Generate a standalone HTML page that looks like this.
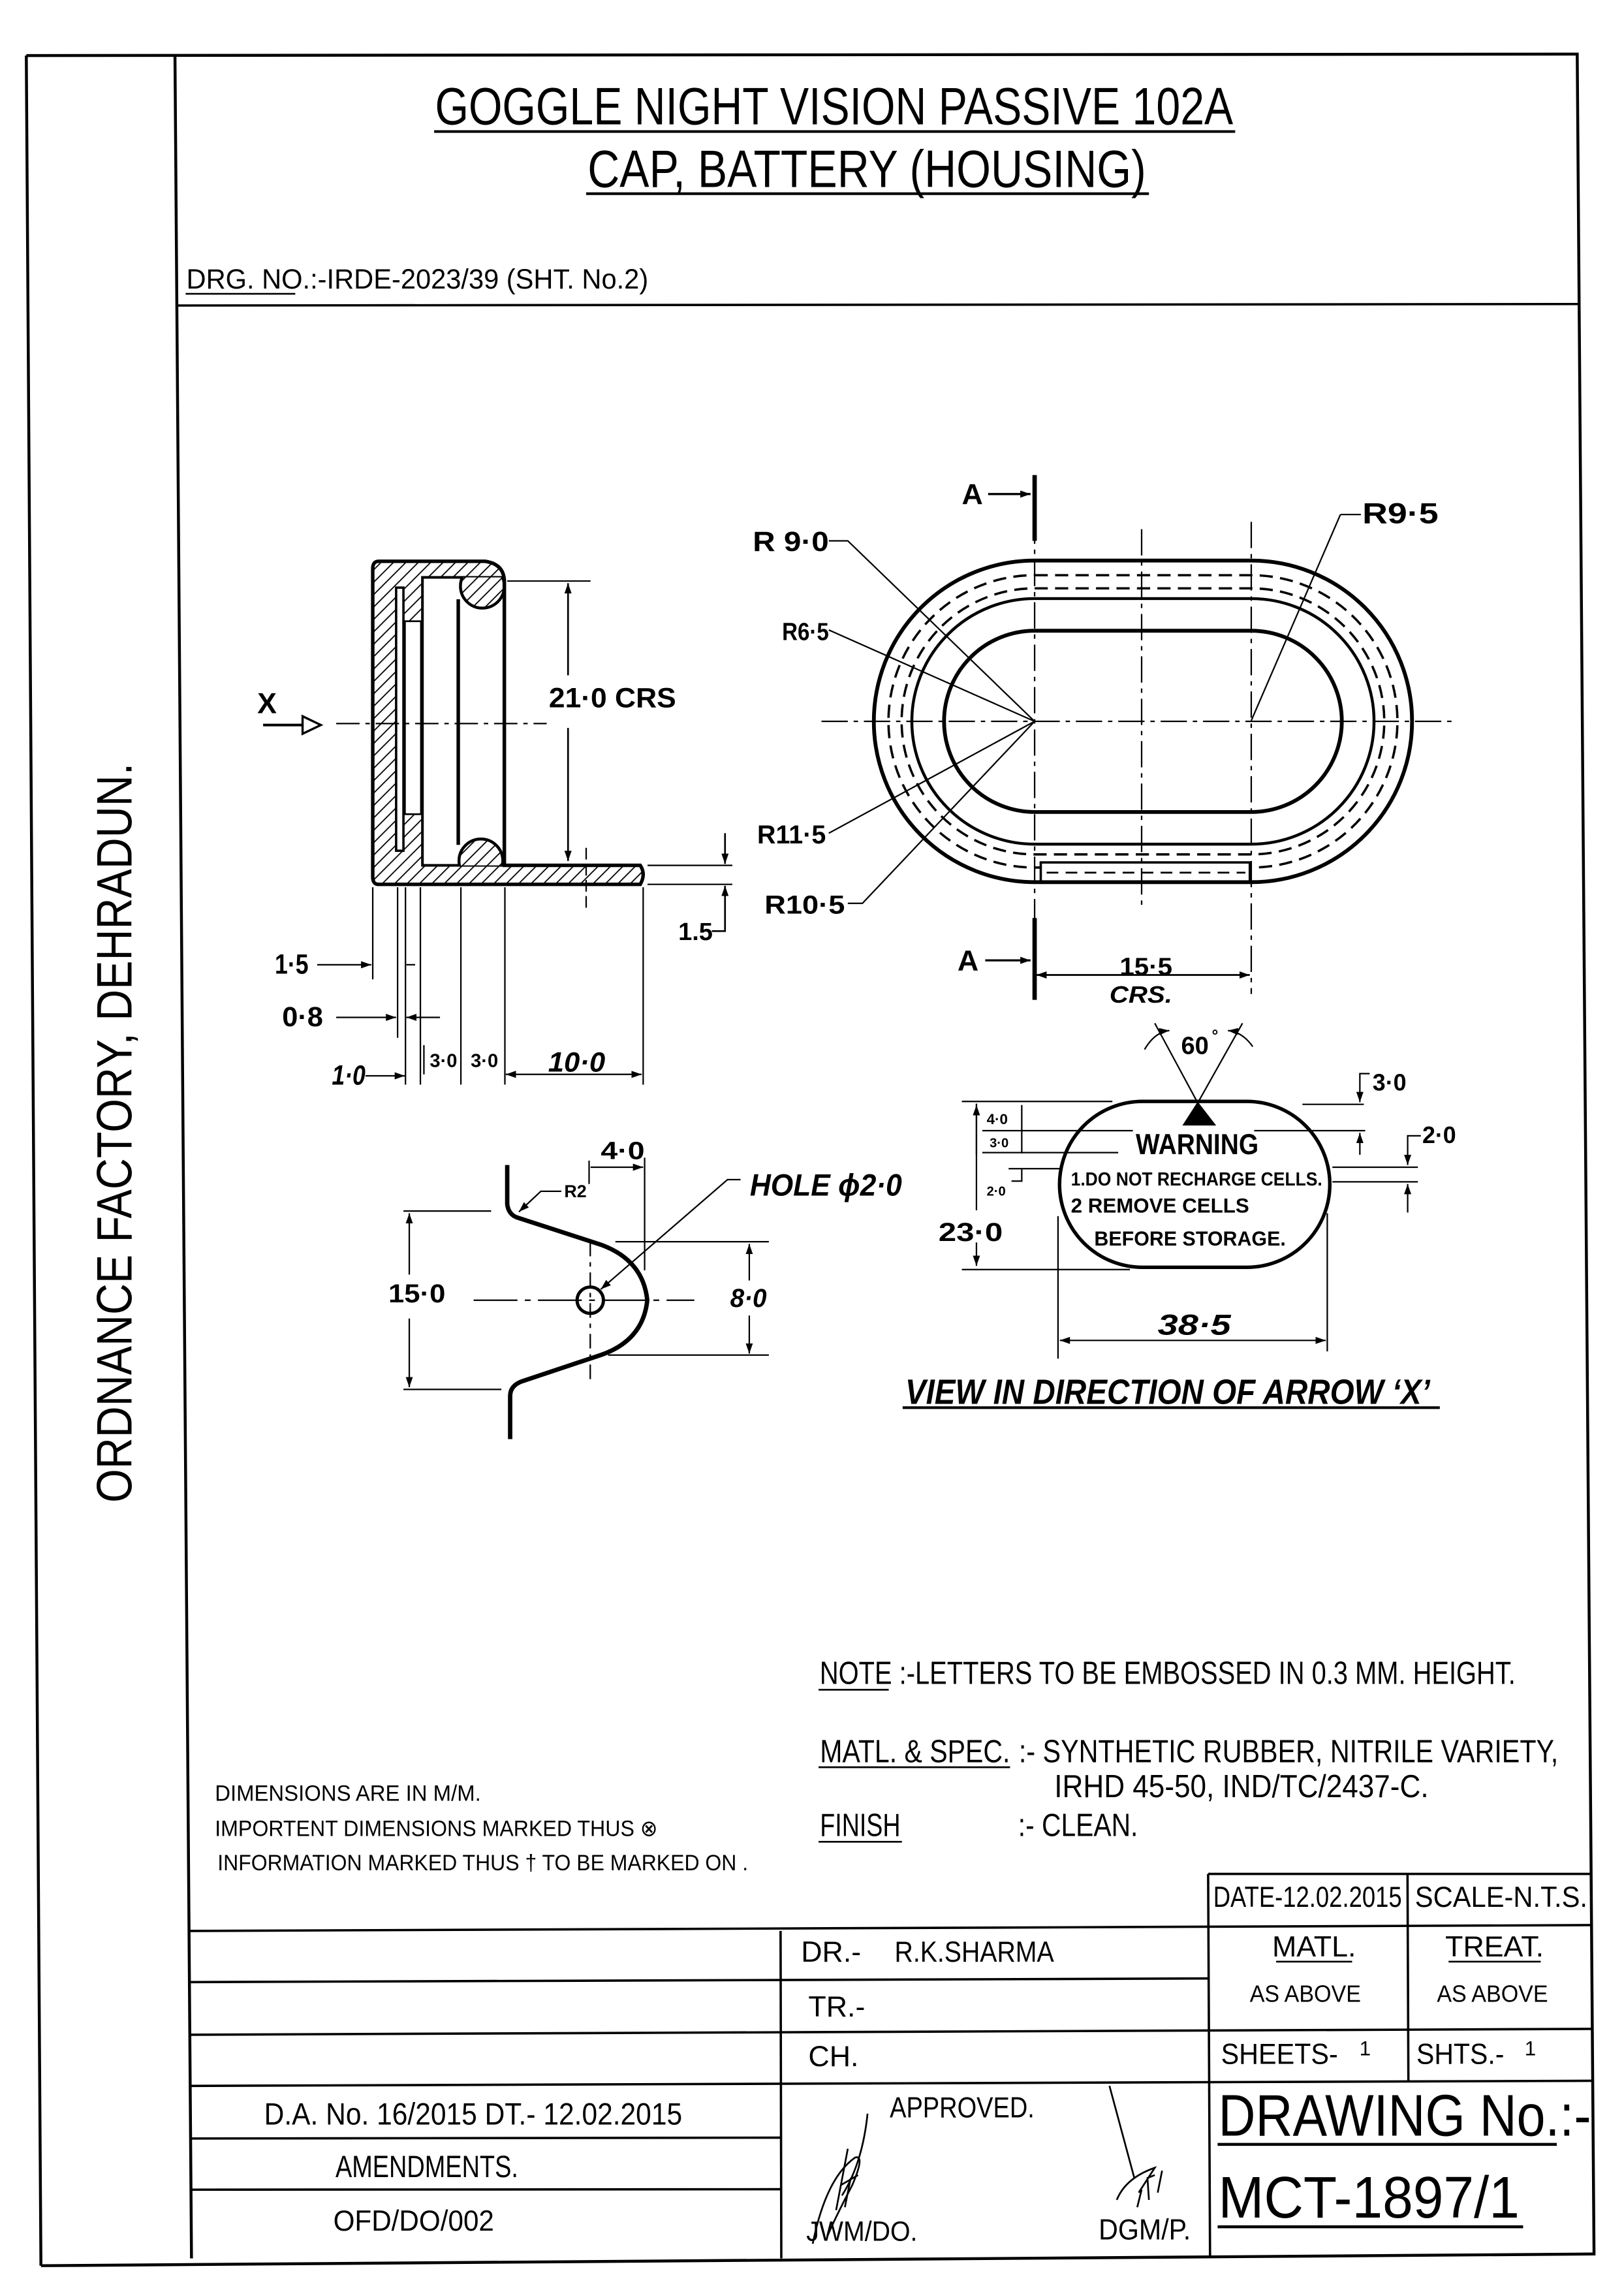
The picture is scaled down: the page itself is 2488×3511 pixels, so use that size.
<!DOCTYPE html>
<html><head><meta charset="utf-8"><style>
html,body{margin:0;padding:0;background:#fff;}
svg{display:block;}
text{font-family:"Liberation Sans",sans-serif;fill:#000;}
.t{font-weight:normal;}
.b{font-weight:bold;}
.i{font-weight:bold;font-style:italic;}
</style></head><body>
<svg xmlns="http://www.w3.org/2000/svg" width="2488" height="3511" viewBox="0 0 1111 1568" preserveAspectRatio="none">
<defs>
<pattern id="h" patternUnits="userSpaceOnUse" width="6" height="6" patternTransform="rotate(45)">
<rect width="6" height="6" fill="#fff"/><line x1="0" y1="0" x2="0" y2="6" stroke="#000" stroke-width="1.6"/>
</pattern>
<marker id="a" viewBox="0 0 10 10" refX="10" refY="5" markerWidth="7" markerHeight="7" orient="auto-start-reverse" markerUnits="userSpaceOnUse"><path d="M0,1.5 L10,5 L0,8.5 Z" fill="#000"/></marker>
<clipPath id="cav"><rect x="289" y="395" width="56" height="197"/></clipPath>
</defs>
<rect width="1111" height="1568" fill="#fff"/>
<g stroke="#000" fill="none">
<line x1="18" y1="38" x2="28" y2="1550" stroke-width="2"/>
<line x1="18" y1="38" x2="1080" y2="37" stroke-width="2"/>
<line x1="119.7" y1="38" x2="131" y2="1545" stroke-width="2"/>
<line x1="1079" y1="37" x2="1090.5" y2="1543" stroke-width="2"/>
<line x1="121" y1="209" x2="1080" y2="208" stroke-width="1.6"/>
<line x1="28" y1="1550" x2="1090" y2="1542" stroke-width="2"/>
<g stroke-width="1.6">
<line x1="826.5" y1="1282" x2="1088.6" y2="1282"/>
<line x1="129.5" y1="1321" x2="1088.6" y2="1317"/>
<line x1="129.7" y1="1356" x2="826.5" y2="1353.5"/>
<line x1="130" y1="1392" x2="1088.8" y2="1388"/>
<line x1="130.2" y1="1427" x2="1089" y2="1423.5"/>
<line x1="130.4" y1="1463" x2="534.5" y2="1462.4"/>
<line x1="130.7" y1="1498" x2="534.5" y2="1497.7"/>
<line x1="534" y1="1321" x2="534.5" y2="1545"/>
<line x1="826.5" y1="1282" x2="827.8" y2="1543"/>
<line x1="962.9" y1="1282" x2="963.5" y2="1424"/>
<line x1="833" y1="1467" x2="1065" y2="1467" stroke-width="2"/>
<line x1="833" y1="1523.4" x2="1042" y2="1523.4" stroke-width="2"/>
</g>
<g stroke-width="1.2">
<path d="M593.5,1446 Q590,1480 576,1502"/>
<path d="M556,1535 Q565,1490 585,1476 Q592,1474 583,1495 Q570,1520 566,1530"/>
<path d="M575,1495 L587,1488 M572,1512 L580,1470 M578,1510 L582,1490"/>
<path d="M759,1427 Q768,1460 776,1490"/>
<path d="M764,1505 Q770,1490 790,1483 L779,1500 M778,1510 L781,1498 M786,1505 L785,1490 L790,1488 M792,1500 L795,1485"/>
</g>
<path d="M259,384 L332,384 Q345,386 345,398 L345,592 L438,592 Q442,598 438,605 L259,605 Q255,605 255,600 L255,389 Q255,384 259,384 Z" fill="url(#h)" stroke-width="2.4"/>
<rect x="289" y="395" width="56" height="197" fill="#fff" stroke-width="1.8"/>
<g clip-path="url(#cav)">
<circle cx="330" cy="401" r="15" fill="url(#h)" stroke-width="2"/>
<circle cx="329" cy="589" r="15" fill="url(#h)" stroke-width="2"/>
</g>
<line x1="345" y1="396" x2="345" y2="593" stroke-width="2.4"/>
<line x1="313.5" y1="410" x2="313.5" y2="578" stroke-width="2.4"/>
<rect x="271" y="402" width="5" height="180" fill="#fff" stroke-width="1.6"/>
<rect x="277" y="425" width="11" height="132" fill="#fff" stroke-width="1.2"/>
<line x1="230" y1="495" x2="374" y2="495" stroke-width="1" stroke-dasharray="16 4 3 4"/>
<line x1="180" y1="496" x2="207" y2="496" stroke-width="1.8"/>
<path d="M207,490 L219.5,496 L207,502 Z" stroke-width="1.5" fill="#fff"/>
<line x1="347" y1="397.5" x2="404" y2="397.5" stroke-width="1"/>
<line x1="388.6" y1="399" x2="388.6" y2="462" stroke-width="1.2" marker-start="url(#a)"/>
<line x1="388.6" y1="498" x2="388.6" y2="589" stroke-width="1.2" marker-end="url(#a)"/>
<line x1="443" y1="592" x2="501" y2="592" stroke-width="1"/>
<line x1="443" y1="605" x2="501" y2="605" stroke-width="1"/>
<line x1="496" y1="570" x2="496" y2="591" stroke-width="1.2" marker-end="url(#a)"/>
<path d="M487,637 L496,637 L496,606" stroke-width="1.2" marker-end="url(#a)"/>
<line x1="401" y1="580" x2="401" y2="622" stroke-width="1" stroke-dasharray="8 3"/>
<g stroke-width="1">
<line x1="255" y1="607" x2="255" y2="670"/>
<line x1="272" y1="607" x2="272" y2="710"/>
<line x1="277.4" y1="607" x2="277.4" y2="742"/>
<line x1="287.6" y1="607" x2="287.6" y2="742"/>
<line x1="315.3" y1="607" x2="315.3" y2="742"/>
<line x1="345.4" y1="607" x2="345.4" y2="742"/>
<line x1="440" y1="607" x2="440" y2="742"/>
<line x1="217" y1="660" x2="254" y2="660" marker-end="url(#a)"/>
<line x1="278" y1="660" x2="284" y2="660"/>
<line x1="230" y1="696" x2="271" y2="696" marker-end="url(#a)"/>
<line x1="301" y1="696" x2="278" y2="696" marker-end="url(#a)"/>
<line x1="250" y1="736" x2="277" y2="736" marker-end="url(#a)"/>
<line x1="346" y1="735" x2="439" y2="735" marker-start="url(#a)" marker-end="url(#a)"/>
</g>
<path d="M707.8,383.5 L856,383.5 A110,110 0 0 1 856,603.5 L707.8,603.5 A110,110 0 0 1 707.8,383.5 Z" stroke-width="2.6"/>
<path d="M707.8,393.5 L856,393.5 A100,100 0 0 1 856,593.5 L707.8,593.5 A100,100 0 0 1 707.8,393.5 Z" stroke-width="1.6" stroke-dasharray="9 5"/>
<path d="M707.8,402.5 L856,402.5 A91,91 0 0 1 856,584.5 L707.8,584.5 A91,91 0 0 1 707.8,402.5 Z" stroke-width="1.6" stroke-dasharray="9 5"/>
<path d="M707.8,409.5 L856,409.5 A84,84 0 0 1 856,577.5 L707.8,577.5 A84,84 0 0 1 707.8,409.5 Z" stroke-width="2"/>
<path d="M707.8,431.5 L856,431.5 A62,62 0 0 1 856,555.5 L707.8,555.5 A62,62 0 0 1 707.8,431.5 Z" stroke-width="2.6"/>
<rect x="712" y="590" width="143" height="13" fill="#fff" stroke-width="1.6"/>
<line x1="716" y1="597" x2="852" y2="597" stroke-width="1.2" stroke-dasharray="8 5"/>
<line x1="562" y1="493.5" x2="997" y2="493.5" stroke-width="1" stroke-dasharray="18 4 3 4"/>
<line x1="707.8" y1="325" x2="707.8" y2="682" stroke-width="1" stroke-dasharray="18 4 3 4"/>
<line x1="707.8" y1="325" x2="707.8" y2="370" stroke-width="3"/>
<line x1="707.8" y1="628" x2="707.8" y2="684" stroke-width="3"/>
<line x1="781" y1="362" x2="781" y2="620" stroke-width="1" stroke-dasharray="18 4 3 4"/>
<line x1="856" y1="357" x2="856" y2="680" stroke-width="1" stroke-dasharray="18 4 3 4"/>
<line x1="676" y1="338" x2="705" y2="338" stroke-width="1.5" marker-end="url(#a)"/>
<line x1="674" y1="657" x2="705" y2="657" stroke-width="1.5" marker-end="url(#a)"/>
<line x1="709" y1="667" x2="855" y2="667" stroke-width="1.2" marker-start="url(#a)" marker-end="url(#a)"/>
<g stroke-width="1">
<path d="M917,352 L931,352"/>
<line x1="917" y1="352" x2="856" y2="493"/>
<path d="M567,370 L580,370 L707.8,493.5"/>
<path d="M567,431 L707.8,493.5"/>
<path d="M567,570 L707.8,493.5"/>
<path d="M580,618 L590,618 L707.8,493.5"/>
</g>
<path d="M347,797 L347,824 Q348,831 354,833 L411,851.5 Q440,862 442.8,889.5 Q440,917 411,927 L357,945 Q349,948 349,955 L349,984.5" stroke-width="3"/>
<circle cx="403.8" cy="889.5" r="9" stroke-width="2.2"/>
<line x1="403.8" y1="849.5" x2="403.8" y2="947" stroke-width="1" stroke-dasharray="10 4 3 4"/>
<line x1="324" y1="889.5" x2="475" y2="889.5" stroke-width="1" stroke-dasharray="30 5 4 5"/>
<g stroke-width="1">
<line x1="276" y1="828.5" x2="336" y2="828.5"/>
<line x1="276" y1="950.5" x2="343" y2="950.5"/>
<line x1="280" y1="830" x2="280" y2="872" marker-start="url(#a)"/>
<line x1="280" y1="902" x2="280" y2="949" marker-end="url(#a)"/>
<line x1="421" y1="849.5" x2="526" y2="849.5"/>
<line x1="416" y1="927" x2="526" y2="927"/>
<line x1="512.6" y1="851" x2="512.6" y2="876" marker-start="url(#a)"/>
<line x1="512.6" y1="900" x2="512.6" y2="926" marker-end="url(#a)"/>
<line x1="403" y1="794" x2="403" y2="810"/>
<line x1="441" y1="792" x2="441" y2="869"/>
<line x1="404" y1="798.5" x2="440" y2="798.5" marker-end="url(#a)"/>
<path d="M384,815 L370,815 L355,829" marker-end="url(#a)"/>
<path d="M506.6,807 L497.7,807 L411,882" marker-end="url(#a)"/>
</g>
<path d="M781.6,753.5 L853,753.5 A56.75,56.75 0 0 1 853,867 L781.6,867 A56.75,56.75 0 0 1 781.6,753.5 Z" stroke-width="2.4"/>
<path d="M809.8,769.5 L819.4,754.5 L831,769.5 Z" fill="#000"/>
<g stroke-width="1">
<line x1="819.4" y1="754.5" x2="790" y2="700"/>
<line x1="819.4" y1="754.5" x2="850" y2="700"/>
<path d="M783,718 Q790,706 800,705" marker-end="url(#a)"/>
<path d="M857,716 Q850,706 840,705" marker-end="url(#a)"/>
<line x1="658" y1="753.5" x2="761" y2="753.5"/>
<line x1="891" y1="755.5" x2="933" y2="755.5"/>
<line x1="858" y1="773.5" x2="934" y2="773.5"/>
<path d="M937,734.5 L930.3,734.5 L930.3,754" marker-end="url(#a)"/>
<line x1="930.3" y1="790" x2="930.3" y2="775" marker-end="url(#a)"/>
<line x1="911.5" y1="798.5" x2="970" y2="798.5"/>
<line x1="911.5" y1="808.5" x2="970" y2="808.5"/>
<path d="M972,777 L963,777 L963,797" marker-end="url(#a)"/>
<line x1="963" y1="829.5" x2="963" y2="810" marker-end="url(#a)"/>
<line x1="668" y1="755" x2="668" y2="828"/>
<line x1="668" y1="850" x2="668" y2="866" marker-end="url(#a)"/>
<line x1="668" y1="790" x2="668" y2="756" marker-end="url(#a)"/>
<line x1="658" y1="868.5" x2="773" y2="868.5"/>
<line x1="672" y1="773.5" x2="775" y2="773.5"/>
<line x1="672" y1="788.5" x2="765" y2="788.5"/>
<line x1="690" y1="799.5" x2="725" y2="799.5"/>
<line x1="699" y1="756" x2="699" y2="789"/>
<path d="M692,808 L699,808 L699,800"/>
<line x1="723.8" y1="832" x2="723.8" y2="929.5"/>
<line x1="908" y1="830" x2="908" y2="924.5"/>
<line x1="725" y1="917" x2="907" y2="917" marker-start="url(#a)" marker-end="url(#a)"/>
<line x1="617.5" y1="963" x2="985" y2="963" stroke-width="1.8"/>
</g>
</g>

<text x="297.6" y="85" font-size="36" textLength="546" lengthAdjust="spacingAndGlyphs">GOGGLE NIGHT VISION PASSIVE 102A</text>
<line x1="297" y1="90" x2="845" y2="90" stroke="#000" stroke-width="1.8"/>
<text x="402" y="128" font-size="36" textLength="382" lengthAdjust="spacingAndGlyphs">CAP, BATTERY (HOUSING)</text>
<line x1="401" y1="132.5" x2="786" y2="132.5" stroke="#000" stroke-width="1.8"/>
<text x="127.5" y="197.5" font-size="19" textLength="316" lengthAdjust="spacingAndGlyphs">DRG. NO.:-IRDE-2023/39 (SHT. No.2)</text>
<line x1="127" y1="201" x2="202" y2="201" stroke="#000" stroke-width="1.2"/>
<text x="78" y="1028" font-size="34" transform="rotate(-90 78 1028)" textLength="506" lengthAdjust="spacingAndGlyphs" dy="12">ORDNANCE FACTORY, DEHRADUN.</text>

<text class="b" x="176" y="488" font-size="20">X</text>
<text class="b" x="375.5" y="484" font-size="19" textLength="87" lengthAdjust="spacingAndGlyphs">21·0 CRS</text>
<text class="b" x="464" y="643" font-size="17">1.5</text>
<text class="b" x="188" y="666" font-size="19" textLength="23" lengthAdjust="spacingAndGlyphs">1·5</text>
<text class="b" x="193" y="702" font-size="19" textLength="28" lengthAdjust="spacingAndGlyphs">0·8</text>
<text class="i" x="227" y="742" font-size="19" textLength="23" lengthAdjust="spacingAndGlyphs">1·0</text>
<text class="b" x="294" y="730" font-size="13">3·0</text>
<text class="b" x="322" y="730" font-size="13">3·0</text>
<text class="i" x="375" y="733" font-size="19" textLength="39" lengthAdjust="spacingAndGlyphs">10·0</text>
<line x1="290" y1="735" x2="290" y2="715" stroke="#000"/>

<text class="b" x="515" y="377" font-size="19" textLength="52" lengthAdjust="spacingAndGlyphs">R 9·0</text>
<text class="b" x="535" y="438" font-size="17" textLength="32" lengthAdjust="spacingAndGlyphs">R6·5</text>
<text class="b" x="518" y="577" font-size="18" textLength="47" lengthAdjust="spacingAndGlyphs">R11·5</text>
<text class="b" x="523" y="625" font-size="18" textLength="55" lengthAdjust="spacingAndGlyphs">R10·5</text>
<text class="b" x="932" y="358" font-size="20" textLength="52" lengthAdjust="spacingAndGlyphs">R9·5</text>
<text class="b" x="658" y="345" font-size="20">A</text>
<text class="b" x="655" y="664" font-size="20">A</text>
<text class="b" x="766" y="667" font-size="17" textLength="36" lengthAdjust="spacingAndGlyphs">15·5</text>
<text class="i" x="759" y="686" font-size="16" textLength="43" lengthAdjust="spacingAndGlyphs">CRS.</text>

<text class="b" x="808" y="721" font-size="17">60</text>
<text class="b" x="829" y="712" font-size="11">°</text>
<text class="b" x="939" y="746" font-size="16">3·0</text>
<text class="b" x="973" y="782" font-size="16">2·0</text>
<text class="b" x="675" y="769" font-size="10">4·0</text>
<text class="b" x="677" y="785" font-size="9">3·0</text>
<text class="b" x="675" y="818" font-size="9">2·0</text>
<text class="b" x="642" y="849" font-size="18" textLength="44" lengthAdjust="spacingAndGlyphs">23·0</text>
<text class="b" x="777" y="789.5" font-size="20" textLength="84" lengthAdjust="spacingAndGlyphs">WARNING</text>
<text class="b" x="732.6" y="811" font-size="13" textLength="172" lengthAdjust="spacingAndGlyphs">1.DO NOT RECHARGE CELLS.</text>
<text class="b" x="732.6" y="829.5" font-size="14" textLength="122" lengthAdjust="spacingAndGlyphs">2 REMOVE  CELLS</text>
<text class="b" x="748.6" y="852" font-size="14" textLength="131" lengthAdjust="spacingAndGlyphs">BEFORE STORAGE.</text>
<text class="i" x="792" y="913" font-size="20" textLength="50" lengthAdjust="spacingAndGlyphs">38·5</text>
<text class="i" x="619.3" y="960.5" font-size="24" textLength="359" lengthAdjust="spacingAndGlyphs">VIEW IN DIRECTION OF ARROW ‘X’</text>

<text class="b" x="411" y="793" font-size="17" textLength="30" lengthAdjust="spacingAndGlyphs">4·0</text>
<text class="b" x="386" y="819" font-size="12">R2</text>
<text class="i" x="513" y="818" font-size="21" textLength="104" lengthAdjust="spacingAndGlyphs">HOLE ϕ2·0</text>
<text class="b" x="265.7" y="891" font-size="18" textLength="39" lengthAdjust="spacingAndGlyphs">15·0</text>
<text class="i" x="499.5" y="894" font-size="18" textLength="25" lengthAdjust="spacingAndGlyphs">8·0</text>

<text x="147" y="1232" font-size="15.5" textLength="182" lengthAdjust="spacingAndGlyphs">DIMENSIONS ARE IN M/M.</text>
<text x="147" y="1256" font-size="15.5" textLength="303" lengthAdjust="spacingAndGlyphs">IMPORTENT DIMENSIONS MARKED THUS ⊗</text>
<text x="148.8" y="1279.5" font-size="15.5" textLength="363" lengthAdjust="spacingAndGlyphs">INFORMATION MARKED THUS † TO BE MARKED ON .</text>

<text x="560.8" y="1152" font-size="22" textLength="476" lengthAdjust="spacingAndGlyphs">NOTE :-LETTERS TO BE EMBOSSED IN 0.3 MM. HEIGHT.</text>
<line x1="560" y1="1156" x2="608" y2="1156" stroke="#000" stroke-width="1.2"/>
<text x="561" y="1205.5" font-size="22" textLength="130" lengthAdjust="spacingAndGlyphs">MATL. &amp; SPEC.</text>
<line x1="560" y1="1209" x2="691" y2="1209" stroke="#000" stroke-width="1.2"/>
<text x="697" y="1205.5" font-size="22" textLength="369" lengthAdjust="spacingAndGlyphs">:- SYNTHETIC RUBBER, NITRILE VARIETY,</text>
<text x="721.3" y="1229.5" font-size="22" textLength="256" lengthAdjust="spacingAndGlyphs">IRHD 45-50, IND/TC/2437-C.</text>
<text x="561" y="1256" font-size="22" textLength="55" lengthAdjust="spacingAndGlyphs">FINISH</text>
<line x1="560" y1="1260" x2="617" y2="1260" stroke="#000" stroke-width="1.2"/>
<text x="696.5" y="1256" font-size="22" textLength="82" lengthAdjust="spacingAndGlyphs">:- CLEAN.</text>

<text x="830" y="1304.5" font-size="20" textLength="129" lengthAdjust="spacingAndGlyphs">DATE-12.02.2015</text>
<text x="968" y="1304.5" font-size="20" textLength="118" lengthAdjust="spacingAndGlyphs">SCALE-N.T.S.</text>
<text x="548" y="1342" font-size="20">DR.-</text>
<text x="612" y="1342" font-size="20" textLength="109" lengthAdjust="spacingAndGlyphs">R.K.SHARMA</text>
<text x="553" y="1379.5" font-size="20">TR.-</text>
<text x="553" y="1413.5" font-size="20">CH.</text>
<text x="899" y="1338.5" font-size="20" text-anchor="middle">MATL.</text>
<line x1="873" y1="1342" x2="925" y2="1342" stroke="#000" stroke-width="1.2"/>
<text x="893" y="1369.5" font-size="16" text-anchor="middle" textLength="76" lengthAdjust="spacingAndGlyphs">AS ABOVE</text>
<text x="1022.4" y="1338.5" font-size="20" text-anchor="middle">TREAT.</text>
<line x1="991" y1="1342" x2="1054" y2="1342" stroke="#000" stroke-width="1.2"/>
<text x="1021" y="1369.5" font-size="16" text-anchor="middle" textLength="76" lengthAdjust="spacingAndGlyphs">AS ABOVE</text>
<text x="835.3" y="1412" font-size="20" textLength="80" lengthAdjust="spacingAndGlyphs">SHEETS-</text>
<text x="930" y="1406" font-size="14">1</text>
<text x="969" y="1412" font-size="20" textLength="60" lengthAdjust="spacingAndGlyphs">SHTS.-</text>
<text x="1043" y="1406" font-size="14">1</text>
<text x="833.5" y="1461" font-size="40" textLength="255" lengthAdjust="spacingAndGlyphs">DRAWING No.:-</text>
<text x="833.5" y="1517" font-size="40" textLength="206" lengthAdjust="spacingAndGlyphs">MCT-1897/1</text>
<text x="608.7" y="1448.5" font-size="20" textLength="99" lengthAdjust="spacingAndGlyphs">APPROVED.</text>
<text x="551.6" y="1533" font-size="19" textLength="76" lengthAdjust="spacingAndGlyphs">JWM/DO.</text>
<text x="751.6" y="1532" font-size="20" textLength="63" lengthAdjust="spacingAndGlyphs">DGM/P.</text>
<text x="180.7" y="1453.5" font-size="21" textLength="286" lengthAdjust="spacingAndGlyphs">D.A. No. 16/2015  DT.- 12.02.2015</text>
<text x="229.5" y="1489.5" font-size="21" textLength="125" lengthAdjust="spacingAndGlyphs">AMENDMENTS.</text>
<text x="228" y="1526" font-size="20" textLength="110" lengthAdjust="spacingAndGlyphs">OFD/DO/002</text>
</svg>
</body></html>
